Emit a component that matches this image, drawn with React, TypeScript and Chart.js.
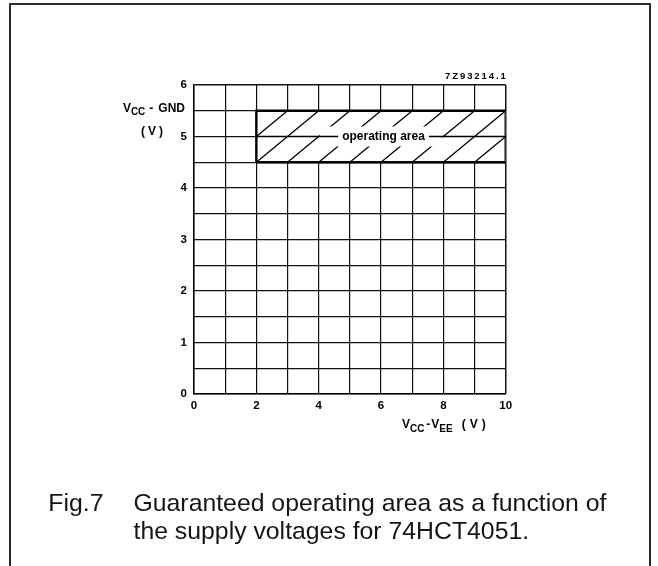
import React, { useEffect, useRef } from "react";
import { Chart, registerables } from "chart.js";

Chart.register(...registerables);

// ---- data ----
const X_MIN = 0;
const X_MAX = 10;
const Y_MIN = 0;
const Y_MAX = 6;
const X_GRID_STEP = 1;
const Y_GRID_STEP = 0.5;
const X_TICK_LABELS = [0, 2, 4, 6, 8, 10];
const Y_TICK_LABELS = [0, 1, 2, 3, 4, 5, 6];
const AREA_X = [2, 10]; // VCC - VEE range (V)
const AREA_Y = [4.5, 5.5]; // VCC - GND range (V)
const AREA_MID_Y = 5;
const AREA_LABEL = "operating area";
const AREA_LABEL_X = 6.08;
const LABEL_GAP_X = [4, 8];
const FIG_CODE = "7Z93214.1";
const CAPTION_FIG = "Fig.7";
const CAPTION_LINES = [
  "Guaranteed operating area as a function of",
  "the supply voltages for 74HCT4051.",
];

const FONT = "'Liberation Sans', Arial, Helvetica, sans-serif";

type Part = { t: string; size: number; dy?: number; gap?: number; ls?: number };

function drawParts(ctx: CanvasRenderingContext2D, x: number, baseline: number, parts: Part[]) {
  let cx = x;
  ctx.textAlign = "left";
  ctx.textBaseline = "alphabetic";
  for (const p of parts) {
    cx += p.gap || 0;
    ctx.font = `bold ${p.size}px ${FONT}`;
    const ls = p.ls || 0;
    for (const ch of p.t) {
      ctx.fillText(ch, cx, baseline + (p.dy || 0));
      cx += ctx.measureText(ch).width + ls;
    }
    cx -= ls;
  }
  return cx;
}

function partsWidth(ctx: CanvasRenderingContext2D, parts: Part[]) {
  let w = 0;
  for (const p of parts) {
    w += p.gap || 0;
    ctx.font = `bold ${p.size}px ${FONT}`;
    const ls = p.ls || 0;
    for (const ch of p.t) w += ctx.measureText(ch).width + ls;
    w -= ls;
  }
  return w;
}

const hatchPlugin = {
  id: "hatch",
  beforeDatasetsDraw(chart: any) {
    const { ctx } = chart;
    const x = chart.scales.x;
    const y = chart.scales.y;
    const x0 = x.getPixelForValue(AREA_X[0]);
    const x1 = x.getPixelForValue(AREA_X[1]);
    const yTop = y.getPixelForValue(AREA_Y[1]);
    const yBot = y.getPixelForValue(AREA_Y[0]);
    const yMid = y.getPixelForValue(AREA_MID_Y);
    ctx.save();
    ctx.fillStyle = "#fff";
    ctx.fillRect(x0, yTop, x1 - x0, yBot - yTop);
    ctx.strokeStyle = "#000";
    ctx.lineWidth = 1.3;
    ctx.beginPath();
    for (let k = AREA_X[0]; k < AREA_X[1]; k += X_GRID_STEP) {
      for (let r = AREA_Y[0]; r < AREA_Y[1] - 1e-9; r += Y_GRID_STEP) {
        ctx.moveTo(x.getPixelForValue(k), y.getPixelForValue(r));
        ctx.lineTo(x.getPixelForValue(k + X_GRID_STEP), y.getPixelForValue(r + Y_GRID_STEP));
      }
    }
    ctx.stroke();
    // white band where the label sits
    const gx0 = x.getPixelForValue(LABEL_GAP_X[0]) + 1;
    const gx1 = x.getPixelForValue(LABEL_GAP_X[1]) - 1;
    ctx.fillStyle = "#fff";
    ctx.fillRect(gx0, yMid - 10, gx1 - gx0, 20);
    // label
    ctx.font = `bold 12px ${FONT}`;
    ctx.textAlign = "center";
    ctx.textBaseline = "middle";
    const lx = x.getPixelForValue(AREA_LABEL_X);
    const w = ctx.measureText(AREA_LABEL).width;
    ctx.fillStyle = "#000";
    ctx.fillText(AREA_LABEL, lx, yMid);
    ctx.beginPath();
    ctx.lineWidth = 1.3;
    ctx.moveTo(x0, yMid);
    ctx.lineTo(lx - w / 2 - 4, yMid);
    ctx.moveTo(lx + w / 2 + 4, yMid);
    ctx.lineTo(x1, yMid);
    ctx.stroke();
    ctx.restore();
  },
  afterDraw(chart: any) {
    const { ctx, chartArea } = chart;
    ctx.save();
    ctx.fillStyle = "#000";
    // figure code, top right
    const codeParts: Part[] = [{ t: FIG_CODE, size: 9.5, ls: 1.9 }];
    const cw = partsWidth(ctx, codeParts);
    drawParts(ctx, chartArea.right - cw, chartArea.top - 6.5, codeParts);
    // y axis title
    const yParts: Part[] = [
      { t: "V", size: 12 },
      { t: "CC", size: 10, dy: 3.5 },
      { t: "-", size: 12, gap: 4 },
      { t: "GND", size: 12, gap: 5 },
    ];
    const yw = partsWidth(ctx, yParts);
    const yRight = chartArea.left - 9;
    drawParts(ctx, yRight - yw, chartArea.top + 26.5, yParts);
    const vParts: Part[] = [{ t: "(V)", size: 12, ls: 3 }];
    const vw = partsWidth(ctx, vParts);
    drawParts(ctx, yRight - yw / 2 - vw / 2 - 2, chartArea.top + 50, vParts);
    // x axis title
    const xParts: Part[] = [
      { t: "V", size: 12 },
      { t: "CC", size: 10, dy: 3.5 },
      { t: "-", size: 12, gap: 2 },
      { t: "V", size: 12, gap: 1 },
      { t: "EE", size: 10, dy: 3.5 },
      { t: "(V)", size: 12, gap: 9, ls: 4 },
    ];
    const xw = partsWidth(ctx, xParts);
    drawParts(ctx, chartArea.right - 20 - xw, chartArea.bottom + 34, xParts);
    ctx.restore();
  },
};

export default function App() {
  const canvasRef = useRef<HTMLCanvasElement | null>(null);

  useEffect(() => {
    if (!canvasRef.current) return;
    const rect = [
      { x: AREA_X[0], y: AREA_Y[0] },
      { x: AREA_X[1], y: AREA_Y[0] },
      { x: AREA_X[1], y: AREA_Y[1] },
      { x: AREA_X[0], y: AREA_Y[1] },
      { x: AREA_X[0], y: AREA_Y[0] },
    ];
    const chart = new Chart(canvasRef.current, {
      type: "scatter",
      data: {
        datasets: [
          {
            label: AREA_LABEL,
            data: rect,
            showLine: true,
            borderColor: "#000",
            borderWidth: 2.4,
            borderJoinStyle: "miter",
            pointRadius: 0,
            fill: false,
            tension: 0,
          } as any,
        ],
      },
      plugins: [hatchPlugin],
      options: {
        animation: false,
        responsive: false,
        devicePixelRatio: 1,
        layout: { padding: { top: 85, left: 0, right: 152.3, bottom: 142 } },
        plugins: { legend: { display: false }, tooltip: { enabled: false } },
        scales: {
          x: {
            type: "linear",
            min: X_MIN,
            max: X_MAX,
            afterFit: (s: any) => {
              s.height = 30;
            },
            border: { display: true, color: "#000", width: 1.5 },
            grid: {
              color: "#111",
              lineWidth: (c: any) => (c.tick && c.tick.value === X_MAX ? 1.5 : 1.2),
              drawTicks: false,
            },
            ticks: {
              stepSize: X_GRID_STEP,
              autoSkip: false,
              maxRotation: 0,
              padding: 5,
              color: "#000",
              font: { family: FONT, size: 11.5, weight: "bold" },
              callback: (v: any) => (X_TICK_LABELS.includes(Number(v)) ? String(v) : ""),
            },
          },
          y: {
            type: "linear",
            min: Y_MIN,
            max: Y_MAX,
            afterFit: (s: any) => {
              s.width = 194;
            },
            border: { display: true, color: "#000", width: 1.5 },
            grid: {
              color: "#111",
              lineWidth: (c: any) => (c.tick && c.tick.value === Y_MAX ? 1.5 : 1.2),
              drawTicks: false,
            },
            ticks: {
              stepSize: Y_GRID_STEP,
              autoSkip: false,
              padding: 7,
              color: "#000",
              font: { family: FONT, size: 11.5, weight: "bold" },
              callback: (v: any) => (Y_TICK_LABELS.includes(Number(v)) ? String(v) : ""),
            },
          },
        },
      } as any,
    });
    return () => chart.destroy();
  }, []);

  const captionFont: React.CSSProperties = {
    position: "absolute",
    top: 488.9,
    fontFamily: FONT,
    fontSize: "24.8px",
    lineHeight: "28.5px",
    color: "#151515",
    whiteSpace: "nowrap",
  };

  return (
    <div
      style={{
        position: "absolute",
        left: 0,
        top: 0,
        width: 658,
        height: 566,
        overflow: "hidden",
        background: "#fff",
      }}
    >
      <canvas
        ref={canvasRef}
        width={658}
        height={566}
        style={{ position: "absolute", left: 0, top: 0, width: 658, height: 566 }}
      />
      <div
        style={{
          position: "absolute",
          left: 9,
          top: 3,
          width: 642,
          height: 563,
          boxSizing: "border-box",
          border: "2px solid #2b2b2b",
          borderBottom: "none",
          pointerEvents: "none",
        }}
      />
      <div style={{ ...captionFont, left: 48.3 }}>{CAPTION_FIG}</div>
      <div style={{ ...captionFont, left: 133.5 }}>
        {CAPTION_LINES[0]}
        <br />
        {CAPTION_LINES[1]}
      </div>
    </div>
  );
}
